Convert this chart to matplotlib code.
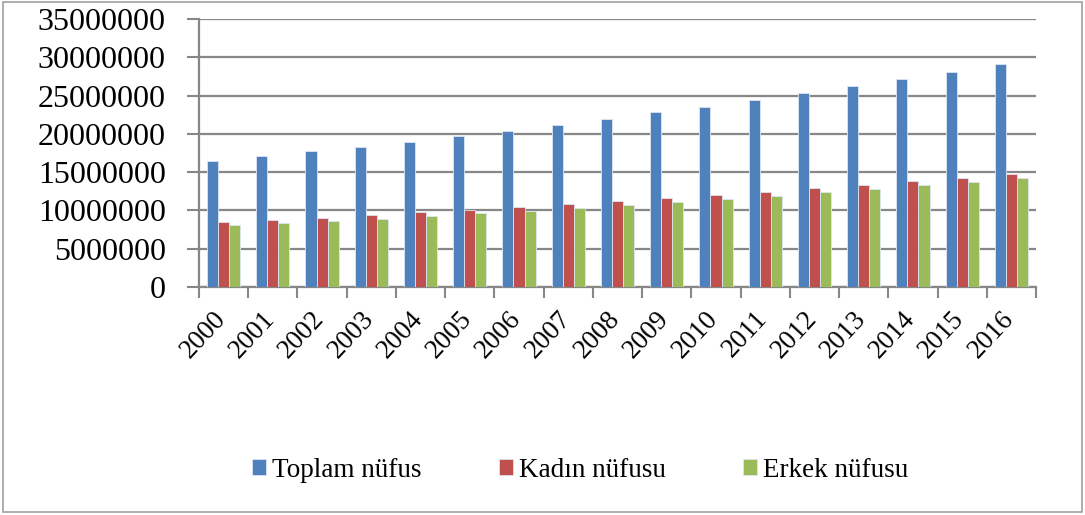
import matplotlib
matplotlib.use("Agg")
import matplotlib.pyplot as plt
import numpy as np
from matplotlib.patches import Rectangle

years = [str(y) for y in range(2000, 2017)]
toplam = [16.5, 17.1, 17.7, 18.3, 19.0, 19.7, 20.4, 21.2, 22.0, 22.8, 23.55, 24.4, 25.3, 26.2, 27.2, 28.1, 29.1]
kadin = [8.46, 8.72, 9.03, 9.38, 9.73, 10.04, 10.39, 10.83, 11.18, 11.58, 12.0, 12.4, 12.9, 13.37, 13.8, 14.3, 14.8]
erkek = [8.07, 8.33, 8.59, 8.94, 9.29, 9.64, 9.95, 10.3, 10.7, 11.1, 11.5, 11.9, 12.4, 12.8, 13.3, 13.7, 14.2]
series_names = ["Toplam nüfus", "Kadın nüfusu", "Erkek nüfusu"]
colors = ["#4F81BD", "#C0504D", "#9BBB59"]
yticks = list(range(0, 35000001, 5000000))

plt.rcParams['font.family'] = ['Liberation Serif', 'DejaVu Serif']

fig = plt.figure(figsize=(10.85, 5.15), dpi=100)
ax = fig.add_axes([199/1085, (515-287)/515, (1036-199)/1085, (287-19)/515])

x = np.arange(len(years)) + 0.5
w = 0.225
for i, (vals, c, name) in enumerate(zip([toplam, kadin, erkek], colors, series_names)):
    v = np.array(vals) * 1e6
    ax.bar(x + (i - 1) * w, v, width=w, color=c, edgecolor='#dce6f2', linewidth=0.6,
           label=name, zorder=3)

ax.set_xlim(0, len(years))
ax.set_ylim(0, 35000000)
ax.set_yticks(yticks)
ax.set_yticklabels([str(t) for t in yticks], fontsize=23)
ax.yaxis.grid(True, color='#878787', linewidth=1.6, zorder=0)
ax.set_axisbelow(True)

ax.set_xticks(np.arange(len(years) + 1), minor=False)
ax.set_xticklabels([])
# Excel-style rotated labels: top-right corner anchored near each group centre
ax.set_xticks(x + 0.15, minor=True)
ax.set_xticklabels(years, minor=True, rotation=47, fontsize=19.5, ha='right', va='top')
ax.tick_params(axis='x', which='major', length=8, width=1.5, color='#878787', direction='out')
ax.tick_params(axis='x', which='minor', length=0, pad=14)
ax.tick_params(axis='y', length=9, width=1.5, color='#878787', direction='out', pad=15)

for s in ['top', 'right']:
    ax.spines[s].set_visible(False)
for s in ['left', 'bottom']:
    ax.spines[s].set_color('#878787')
    ax.spines[s].set_linewidth(1.6)

leg = fig.legend(loc='center', bbox_to_anchor=(0.535, 0.087), ncol=3, frameon=False,
                 fontsize=19.5, handlelength=0.52, handleheight=0.52, handletextpad=0.22,
                 columnspacing=2.85)

fig.patches.append(Rectangle((3/1085, 3/515), 1079/1085, 510/515, transform=fig.transFigure,
                             fill=False, edgecolor='#a0a0a0', linewidth=1.2))

fig.savefig("out.png", dpi=100)
